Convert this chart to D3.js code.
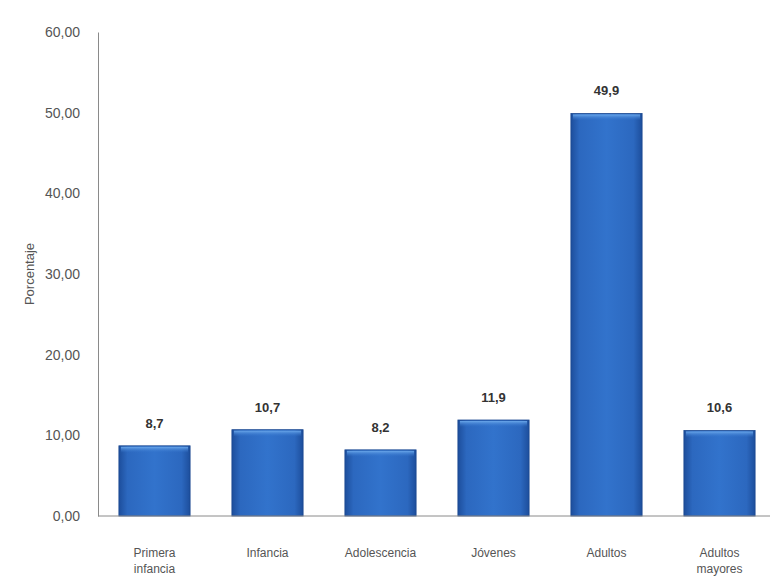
<!DOCTYPE html>
<html>
<head>
<meta charset="utf-8">
<script src="https://cdn.jsdelivr.net/npm/d3@7"></script>
<style>
  body { margin: 0; background: #fff; }
  svg { display: block; font-family: "Liberation Sans", Arial, sans-serif; }
</style>
</head>
<body>
<svg id="chart" width="770" height="586"></svg>
<script>
// data
var categories = [["Primera", "infancia"], ["Infancia"], ["Adolescencia"], ["Jóvenes"], ["Adultos"], ["Adultos", "mayores"]];
var values = [8.7, 10.7, 8.2, 11.9, 49.9, 10.6];
var yTicks = [0, 10, 20, 30, 40, 50, 60];

var svg = d3.select("#chart");
var margin = {top: 32, right: -6, bottom: 70, left: 98};
var width = 770, height = 586;

// comma decimal
var es = d3.formatLocale({decimal: ",", thousands: ".", grouping: [3], currency: ["", "€"]});
var fmtTick = es.format(".2f");
var fmtVal = es.format(".1f");

var x = d3.scaleBand()
  .domain(d3.range(values.length))
  .range([margin.left, width - margin.right])
  .paddingInner(0.37)
  .paddingOuter(0.185);

var y = d3.scaleLinear()
  .domain([0, 60])
  .range([height - margin.bottom, margin.top]);

// bar gradient
var defs = svg.append("defs");
var grad = defs.append("linearGradient").attr("id", "barGrad")
  .attr("x1", "0").attr("x2", "1").attr("y1", "0").attr("y2", "0");
grad.append("stop").attr("offset", "0%").attr("stop-color", "#1d4e9c");
grad.append("stop").attr("offset", "12%").attr("stop-color", "#2c68bf");
grad.append("stop").attr("offset", "50%").attr("stop-color", "#3273cc");
grad.append("stop").attr("offset", "88%").attr("stop-color", "#2c68bf");
grad.append("stop").attr("offset", "100%").attr("stop-color", "#1d4e9c");

var topGrad = defs.append("linearGradient").attr("id", "topGrad")
  .attr("x1", "0").attr("x2", "0").attr("y1", "0").attr("y2", "1");
topGrad.append("stop").attr("offset", "0%").attr("stop-color", "#6aa7ea");
topGrad.append("stop").attr("offset", "100%").attr("stop-color", "#3273cc").attr("stop-opacity", 0);

// y axis
var yAxis = svg.append("g")
  .attr("transform", `translate(${margin.left},0)`)
  .call(d3.axisLeft(y).tickValues(yTicks).tickFormat(fmtTick).tickSize(0).tickPadding(18));
yAxis.select(".domain").attr("stroke", "#8a8a8a");
yAxis.selectAll("text").attr("fill", "#555").style("font-size", "14px");

// bars
var bars = svg.append("g").selectAll("g")
  .data(values)
  .enter().append("g");

bars.append("rect")
  .attr("x", (d, i) => x(i))
  .attr("y", d => y(d))
  .attr("width", x.bandwidth())
  .attr("height", d => y(0) - y(d))
  .attr("fill", "url(#barGrad)")
  .attr("stroke", "#1b4890")
  .attr("stroke-width", 0.8);

bars.append("rect")
  .attr("x", (d, i) => x(i) + 2)
  .attr("y", d => y(d) + 1)
  .attr("width", x.bandwidth() - 4)
  .attr("height", 6)
  .attr("fill", "url(#topGrad)");

// value labels
bars.append("text")
  .attr("x", (d, i) => x(i) + x.bandwidth() / 2)
  .attr("y", d => y(d) - 18)
  .attr("text-anchor", "middle")
  .attr("fill", "#333")
  .style("font-size", "13px")
  .style("font-weight", "bold")
  .text(d => fmtVal(d));

// x axis line
svg.append("line")
  .attr("x1", margin.left).attr("x2", width)
  .attr("y1", y(0)).attr("y2", y(0))
  .attr("stroke", "#8a8a8a");

// category labels
svg.append("g").selectAll("text")
  .data(categories)
  .enter().append("text")
    .attr("x", (d, i) => x(i) + x.bandwidth() / 2)
    .attr("y", y(0) + 41)
    .attr("text-anchor", "middle")
    .attr("fill", "#555")
    .style("font-size", "12px")
    .each(function(d) {
      var t = d3.select(this);
      d.forEach((line, k) => {
        t.append("tspan").attr("x", t.attr("x")).attr("dy", k === 0 ? 0 : 16).text(line);
      });
    });

// y title
svg.append("text")
  .attr("transform", `translate(34,${(y(0) + y(60)) / 2}) rotate(-90)`)
  .attr("text-anchor", "middle")
  .attr("fill", "#555")
  .style("font-size", "13px")
  .text("Porcentaje");
</script>
</body>
</html>
